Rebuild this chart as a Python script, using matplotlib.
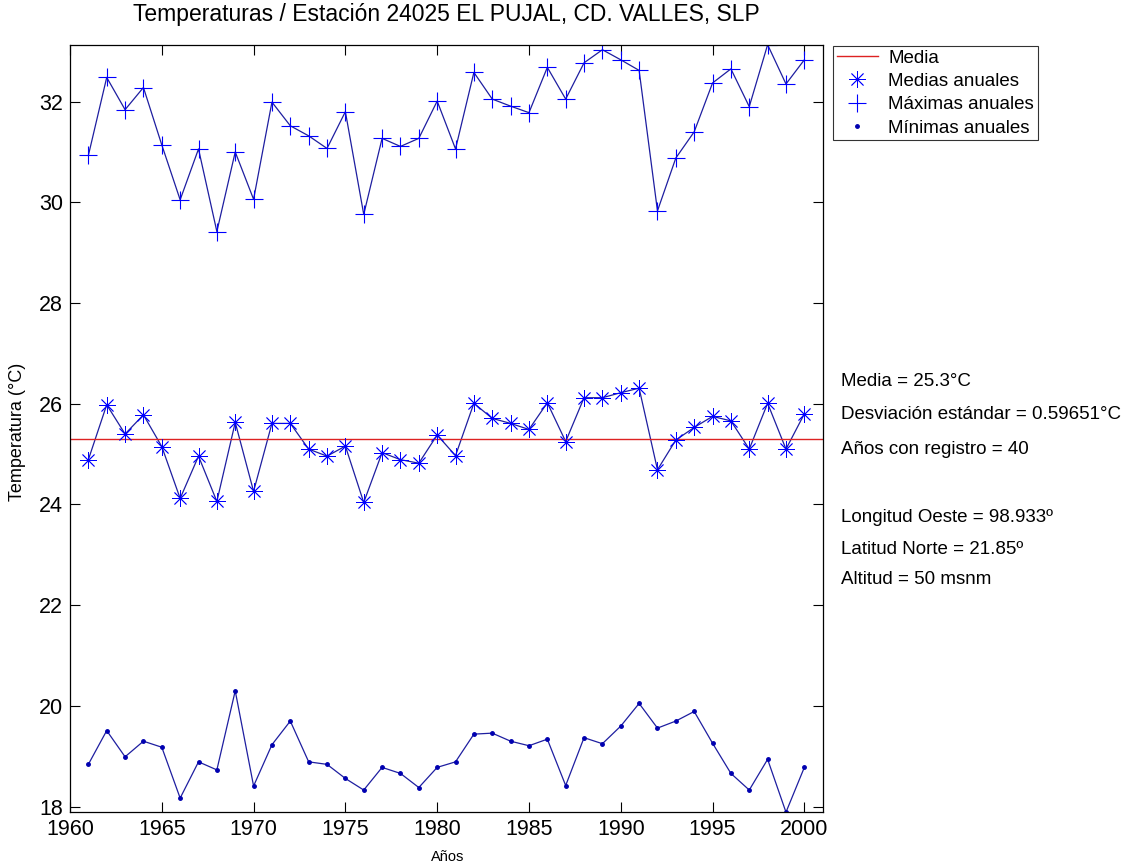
# Temperaturas anuales - Estación 24025 EL PUJAL, CD. VALLES, SLP

import matplotlib
matplotlib.use("Agg")
import matplotlib.pyplot as plt
import numpy as np

# Datos
anios = list(range(1961, 2001))

medias = [24.89, 25.98, 25.40, 25.78, 25.15, 24.12, 24.96, 24.06, 25.63, 24.26,
          25.61, 25.61, 25.10, 24.96, 25.16, 24.04, 25.03, 24.89, 24.82, 25.38,
          24.97, 26.01, 25.71, 25.61, 25.49, 26.02, 25.25, 26.12, 26.12, 26.22,
          26.31, 24.69, 25.28, 25.53, 25.75, 25.66, 25.10, 26.01, 25.10, 25.80]

maximas = [30.93, 32.48, 31.84, 32.28, 31.14, 30.05, 31.06, 29.42, 31.00, 30.06,
           31.99, 31.52, 31.32, 31.07, 31.80, 29.76, 31.27, 31.11, 31.27, 32.01,
           31.06, 32.58, 32.05, 31.91, 31.78, 32.68, 32.05, 32.77, 33.03, 32.83,
           32.62, 29.83, 30.88, 31.40, 32.37, 32.65, 31.90, 33.13, 32.35, 32.83]

minimas = [18.84, 19.51, 18.99, 19.30, 19.18, 18.17, 18.89, 18.73, 20.30, 18.41,
           19.23, 19.70, 18.89, 18.84, 18.56, 18.33, 18.78, 18.66, 18.38, 18.78,
           18.89, 19.44, 19.46, 19.30, 19.21, 19.34, 18.42, 19.37, 19.25, 19.60,
           20.05, 19.56, 19.70, 19.89, 19.26, 18.66, 18.33, 18.94, 17.89, 18.78]

media_total = 25.3

textos = ["Media = 25.3°C",
          "Desviación estándar = 0.59651°C",
          "Años con registro = 40",
          "Longitud Oeste = 98.933º",
          "Latitud Norte = 21.85º",
          "Altitud = 50 msnm"]
textos_y = [382, 415, 449, 518, 549, 580]  # pixeles desde arriba

W, H = 1126, 867
plt.rcParams["font.family"] = ["Liberation Sans", "DejaVu Sans"]

fig = plt.figure(figsize=(W / 100, H / 100), dpi=100)
ax = fig.add_axes([70 / W, 1 - 811.7 / H, 752.7 / W, 767 / H])

azul = "#0000ff"
linea = "#1e1ea0"

# líneas que unen los puntos
ax.plot(anios, medias, "-", color=linea, lw=0.9)
ax.plot(anios, maximas, "-", color=linea, lw=0.9)
ax.plot(anios, minimas, "-", color=linea, lw=0.9)

ax.plot([1960, 2001], [media_total, media_total], "-", color="#dd2222", lw=1.0,
        label="Media")
ax.plot(anios, medias, ls="none", marker=(8, 2, 0), ms=12, mew=0.6, color=azul,
        label="Medias anuales")
ax.plot(anios, maximas, ls="none", marker="+", ms=13, mew=0.8, color=azul,
        label="Máximas anuales")
ax.plot(anios, minimas, ls="none", marker=".", ms=5, color="#0000b0",
        label="Mínimas anuales")

ax.set_xlim(1960, 2001)
ax.set_ylim(17.9, 33.13)
ax.set_xticks(np.arange(1960, 2001, 5))
ax.set_yticks(np.arange(18, 33, 2))
ax.tick_params(direction="in", length=7, width=0.8, labelsize=15.5,
               top=True, right=True, pad=5)
for s in ax.spines.values():
    s.set_linewidth(0.9)

fig.text(446 / W, 1 - 15 / H, "Temperaturas / Estación 24025 EL PUJAL, CD. VALLES, SLP",
         ha="center", va="center", fontsize=16.5)
fig.text(448 / W, 1 - 857 / H, "Años", ha="center", va="center", fontsize=10.5)
fig.text(18 / W, 1 - 432 / H, "Temperatura (°C)", ha="center", va="center",
         rotation=90, fontsize=13)

leg = ax.legend(loc="upper left", bbox_to_anchor=(833 / W, 1 - 45.7 / H),
                bbox_transform=fig.transFigure, borderaxespad=0, fontsize=13.5,
                frameon=True, fancybox=False, edgecolor="black",
                handlelength=2.2, handletextpad=0.55, labelspacing=0.33,
                borderpad=0.2)
leg.get_frame().set_linewidth(0.8)

for t, yp in zip(textos, textos_y):
    fig.text(841 / W, 1 - yp / H, t, ha="left", va="center", fontsize=13.5)

fig.savefig("out.png", dpi=100)
